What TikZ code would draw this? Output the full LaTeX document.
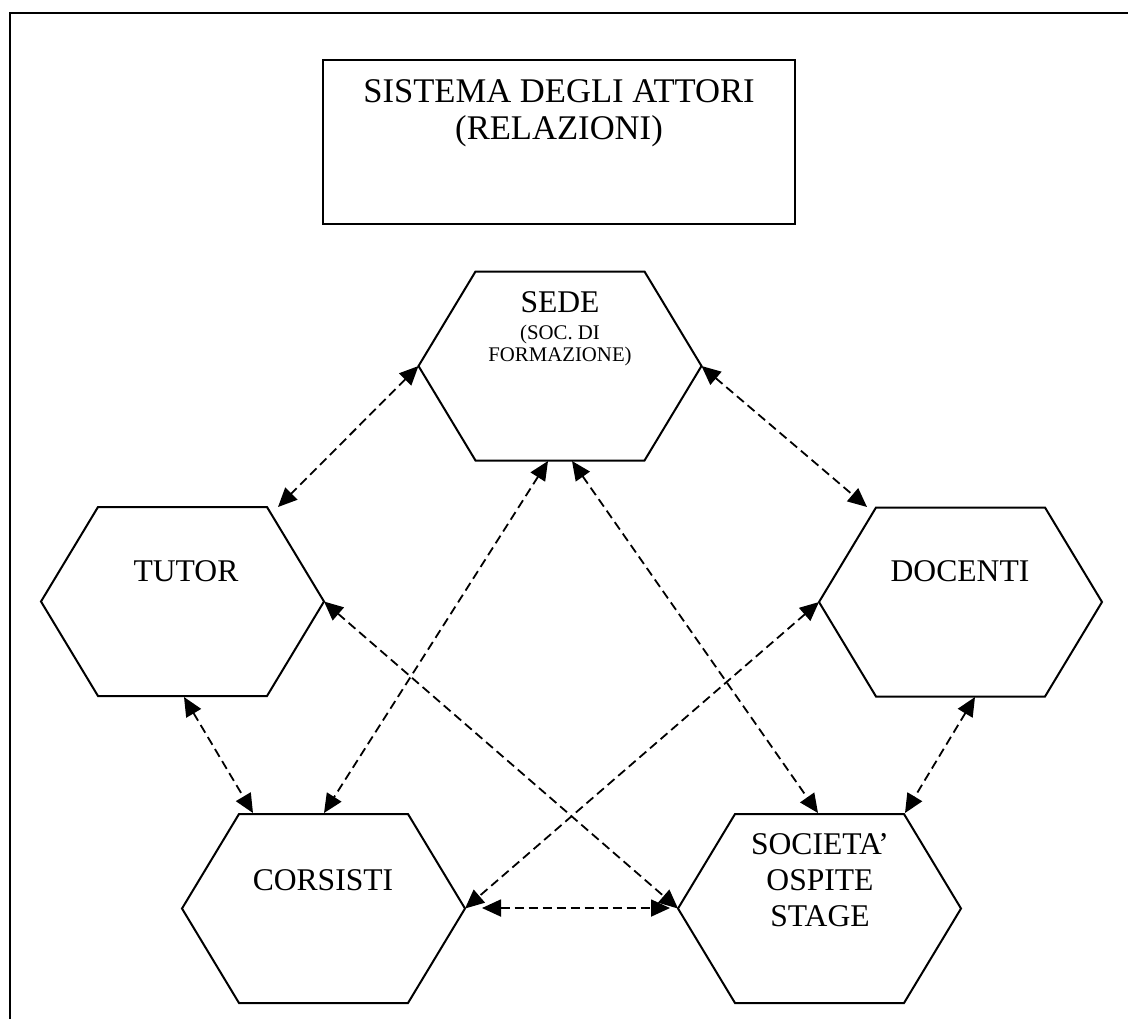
\documentclass[tikz,border=0pt]{standalone}
\usepackage{fontspec}
\setmainfont{Liberation Serif}
\usetikzlibrary{arrows.meta}

% esagono con i vertici nominati: #1 nome, #2 x, #3 y del centro
\newcommand{\attore}[3]{%
  \begin{scope}[shift={(#2,#3)}]
    \draw[hexa] (-141.5,0) coordinate (#1-l) -- (-84.5,-94.5) coordinate (#1-tl)
      -- (84.5,-94.5) coordinate (#1-tr) -- (141.5,0) coordinate (#1-r)
      -- (84.5,94.5) coordinate (#1-br) -- (-84.5,94.5) coordinate (#1-bl) -- cycle;
  \end{scope}}

\begin{document}
\begin{tikzpicture}[x=0.5pt,y=-0.5pt,>={Triangle[length=9.5pt,width=8.5pt]}]
	  \tikzstyle{hexa}=[draw=black,line width=1pt,line join=miter]
	  \tikzstyle{rel}=[<->,line width=0.9pt,dash pattern=on 4.5pt off 2.5pt]
	  \tikzstyle{testo}=[font=\fontsize{15.8}{18}\selectfont,align=center,inner sep=0pt]
	  \tikzstyle{piccolo}=[font=\fontsize{10.4}{11}\selectfont,align=center,inner sep=0pt]

	  \useasboundingbox (0,0) rectangle (1128,1019);
	  \draw[line width=1pt] (10,1019) -- (10,13) -- (1128,13);

	  \node[draw,line width=0.8pt,minimum width=236pt,minimum height=82pt] (titolo) at (559,142) {};
	  \node[testo,font=\fontsize{17.3}{18.5}\selectfont] (titolo-txt) at (559,113) {SISTEMA DEGLI ATTORI\\(RELAZIONI)};

	  \attore{sede}{560}{366}
	  \attore{tutor}{182.5}{601.5}
	  \attore{docenti}{960.5}{602}
	  \attore{corsisti}{323.5}{908.5}
	  \attore{societa}{819.5}{908.5}

	  \node[testo]   (sede-txt)     at (560,302) {SEDE};
	  \node[piccolo] (sede-sub)     at (560,345) {(SOC. DI\\FORMAZIONE)};
	  \node[testo]   (tutor-txt)    at (186,571) {TUTOR};
	  \node[testo]   (docenti-txt)  at (960,571) {DOCENTI};
	  \node[testo]   (corsisti-txt) at (323,880) {CORSISTI};
	  \node[testo]   (societa-txt)  at (820,880) {SOCIETA’\\OSPITE\\STAGE};

	  % estremi delle frecce che non cadono sui vertici
	  \coordinate (tutor-a)    at (278,507);
	  \coordinate (docenti-a)  at (867,507);
	  \coordinate (sede-b1)    at (548,461);
	  \coordinate (sede-b2)    at (572,461);
	  \coordinate (corsisti-a) at (324,813);
	  \coordinate (corsisti-b) at (253,813);
	  \coordinate (corsisti-c) at (482,908);
	  \coordinate (societa-a)  at (818,813);
	  \coordinate (societa-b)  at (905,813);
	  \coordinate (societa-c)  at (670,908);
	  \coordinate (tutor-b)    at (184,697);
	  \coordinate (docenti-b)  at (975,697);

	  \path[rel] (sede-l)     edge (tutor-a)
	             (sede-r)     edge (docenti-a)
	             (sede-b1)    edge (corsisti-a)
	             (sede-b2)    edge (societa-a)
	             (tutor-r)    edge (societa-l)
	             (docenti-l)  edge (corsisti-r)
	             (corsisti-c) edge (societa-c)
	             (tutor-b)    edge (corsisti-b)
	             (docenti-b)  edge (societa-b);
	\end{tikzpicture}
\end{document}
